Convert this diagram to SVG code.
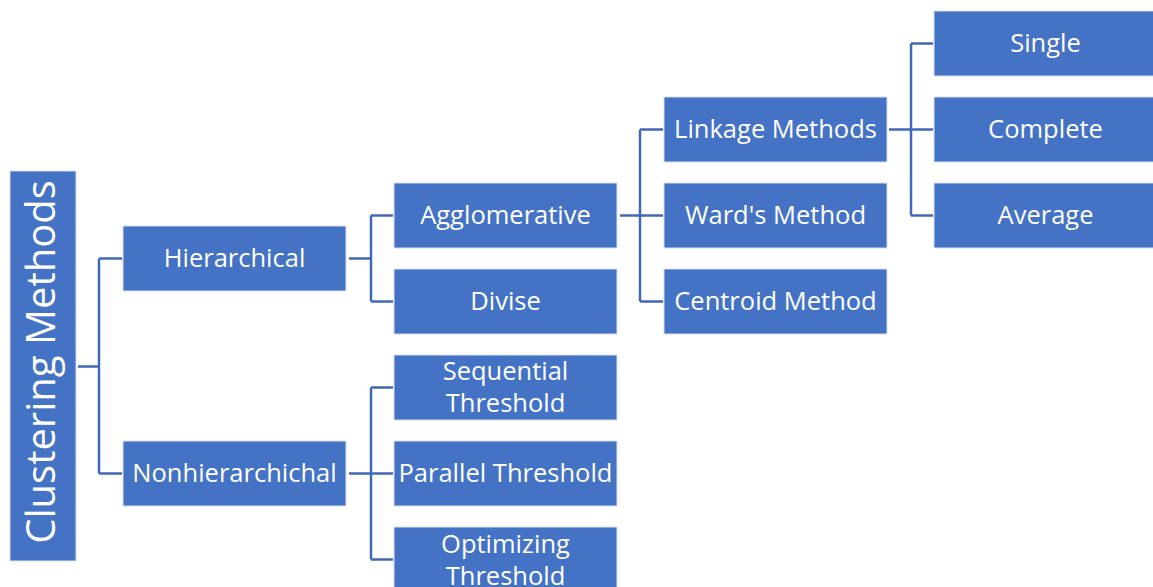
<svg xmlns="http://www.w3.org/2000/svg" width="1153" height="587" viewBox="0 0 1153 587">
<style>
.box{fill:#4472C4;stroke:#D6E0F2;stroke-width:1}
.t{font-family:"Open Sans","Noto Sans",sans-serif;font-size:25.5px;fill:#FFFFFF;text-anchor:middle}
.c{fill:none;stroke:#4168B4;stroke-width:2.5}
</style>
<rect width="1153" height="587" fill="#FFFFFF"/>
<g id="connectors">
<path class="c" d="M78 366.5H99M99 258.5V473.5M99 258.5H122M99 473.5H122"/>
<path class="c" d="M349 258.5H371M371 215.5V301.5M371 215.5H393M371 301.5H393"/>
<path class="c" d="M349 473.5H393M371 387.5V559.5M371 387.5H393M371 559.5H393"/>
<path class="c" d="M620 215.5H663M640 129.5V301.5M640 129.5H663M640 301.5H663"/>
<path class="c" d="M889 129.5H933M911 43.5V215.5M911 43.5H933M911 215.5H933"/>
</g>
<g id="root"><rect class="box" x="10" y="171" width="66" height="390"/><text class="t" style="font-size:40px" transform="translate(55 362) rotate(-90)">Clustering Methods</text></g>
<g id="hierarchical"><rect class="box" x="123" y="226" width="223" height="65"/><text class="t" x="234.5" y="267">Hierarchical</text></g>
<g id="nonhierarchical"><rect class="box" x="123" y="441" width="223" height="65"/><text class="t" x="234.5" y="482">Nonhierarchichal</text></g>
<g id="agglomerative"><rect class="box" x="394" y="183" width="223" height="65"/><text class="t" x="505.5" y="224">Agglomerative</text></g>
<g id="divise"><rect class="box" x="394" y="269" width="223" height="65"/><text class="t" x="505.5" y="310">Divise</text></g>
<g id="sequential"><rect class="box" x="394" y="355" width="223" height="65"/><text class="t" x="505.5" y="380">Sequential</text><text class="t" x="505.5" y="412">Threshold</text></g>
<g id="parallel"><rect class="box" x="394" y="441" width="223" height="65"/><text class="t" x="505.5" y="482">Parallel Threshold</text></g>
<g id="optimizing"><rect class="box" x="394" y="527" width="223" height="65"/><text class="t" x="505.5" y="553">Optimizing</text><text class="t" x="505.5" y="585">Threshold</text></g>
<g id="linkage"><rect class="box" x="664" y="97" width="223" height="65"/><text class="t" x="775.5" y="138">Linkage Methods</text></g>
<g id="ward"><rect class="box" x="664" y="183" width="223" height="65"/><text class="t" x="775.5" y="224">Ward's Method</text></g>
<g id="centroid"><rect class="box" x="664" y="269" width="223" height="65"/><text class="t" x="775.5" y="310">Centroid Method</text></g>
<g id="single"><rect class="box" x="934" y="11" width="223" height="65"/><text class="t" x="1045.5" y="52">Single</text></g>
<g id="complete"><rect class="box" x="934" y="97" width="223" height="65"/><text class="t" x="1045.5" y="138">Complete</text></g>
<g id="average"><rect class="box" x="934" y="183" width="223" height="65"/><text class="t" x="1045.5" y="224">Average</text></g>
</svg>
